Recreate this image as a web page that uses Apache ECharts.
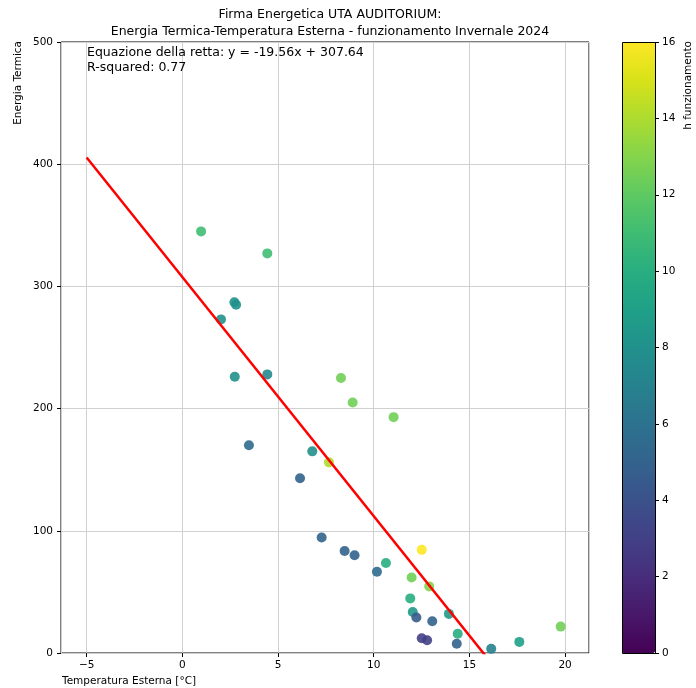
<!DOCTYPE html>
<html>
<head>
<meta charset="utf-8">
<script src="https://cdn.jsdelivr.net/npm/echarts@6/dist/echarts.min.js"></script>
<style>
  html, body { margin: 0; padding: 0; background: #fff; }
  #chart { width: 696px; height: 688px; }
</style>
</head>
<body>
<div id="chart"></div>
<script>
// Outdoor temperature [°C] per day
const temperature = [
  0.98, 4.44, 2.72, 2.81, 2.02, 2.74, 4.44, 8.29, 8.90, 11.04,
  3.48, 6.79, 7.66, 6.15, 7.28, 8.48, 9.00, 12.51, 10.64, 10.17,
  11.98, 12.90, 11.91, 12.04, 12.23, 13.06, 13.93, 14.39, 12.51, 12.79,
  14.34, 16.14, 17.61, 19.77
];
// Thermal energy per day
const energy = [
  345, 327, 287, 285, 273, 226, 228, 225, 205, 193,
  170, 165, 156, 143, 94.5, 83.4, 80, 84.4, 73.6, 66.5,
  61.8, 54.5, 44.7, 33.6, 29, 26, 32, 15.7, 12.1, 10.4,
  7.5, 3.4, 9.1, 21.6
];
// Operating hours per day (colour scale)
const hours = [
  11, 11, 8, 8, 8, 8, 7.5, 12.5, 12.5, 12.5,
  5.5, 8, 14, 5, 5, 5, 5, 16, 10, 5.5,
  12.5, 13, 10, 8.5, 4.5, 5, 8.5, 10, 3, 3,
  5, 7, 9, 12.5
];
// Linear regression results
const slope = -19.56;
const intercept = 307.64;
const rSquared = 0.77;
const fitRange = [-5, 20];

const yTicks = [0, 100, 200, 300, 400, 500];
const hoursTicks = [0, 2, 4, 6, 8, 10, 12, 14, 16];

const viridis = [
  '#440154', '#48186a', '#472d7b', '#424086', '#3b528b', '#33638d',
  '#2c728e', '#26828e', '#21918c', '#1fa088', '#28ae80', '#3fbc73',
  '#5ec962', '#84d44b', '#addc30', '#d8e219', '#fde725'
];

const points = temperature.map((t, i) => [t, energy[i], hours[i]]);
const fitLine = fitRange.map(x => [x, slope * x + intercept]);

const FONT = 'DejaVu Sans';
const plot = { left: 61, top: 42, width: 528, height: 611 };
const cbar = { left: 622, top: 42, width: 33, height: 611 };

const chart = echarts.init(document.getElementById('chart'), null, { renderer: 'canvas' });

chart.setOption({
  animation: false,
  backgroundColor: '#ffffff',
  textStyle: { fontFamily: FONT },
  title: {
    text: 'Firma Energetica UTA AUDITORIUM:\nEnergia Termica-Temperatura Esterna - funzionamento Invernale 2024',
    left: plot.left + plot.width / 2,
    top: 1,
    textAlign: 'center',
    textStyle: { fontFamily: FONT, fontSize: 12.5, fontWeight: 'normal', color: '#000', lineHeight: 17 }
  },
  grid: [
    { left: plot.left, top: plot.top, width: plot.width, height: plot.height,
      show: true, borderColor: '#000', borderWidth: 1, backgroundColor: 'transparent' },
    { left: cbar.left, top: cbar.top, width: cbar.width, height: cbar.height, show: false }
  ],
  xAxis: [
    {
      type: 'value', gridIndex: 0, min: -6.34, max: 21.25,
      axisLine: { show: false, onZero: false },
      axisTick: { show: true, length: 4, lineStyle: { color: '#000' } },
      axisLabel: { showMinLabel: false, showMaxLabel: false, margin: 7,
        fontFamily: FONT, fontSize: 10.5, color: '#000',
        formatter: v => (v < 0 ? '\u2212' + Math.abs(v) : String(v)) },
      splitLine: { show: true, lineStyle: { color: '#d0d0d0', width: 1 } }
    },
    { type: 'value', gridIndex: 1, min: 0, max: 1, show: false }
  ],
  yAxis: [
    {
      type: 'value', gridIndex: 0, min: yTicks[0], max: yTicks[yTicks.length - 1],
      interval: yTicks[1] - yTicks[0],
      axisLine: { show: false, onZero: false },
      axisTick: { show: true, length: 4, lineStyle: { color: '#000' } },
      axisLabel: { margin: 8, fontFamily: FONT, fontSize: 10.5, color: '#000' },
      splitLine: { show: true, lineStyle: { color: '#d0d0d0', width: 1 } }
    },
    {
      type: 'value', gridIndex: 1, position: 'right',
      min: hoursTicks[0], max: hoursTicks[hoursTicks.length - 1],
      interval: hoursTicks[1] - hoursTicks[0],
      axisLine: { show: false, onZero: false },
      axisTick: { show: true, length: 4, lineStyle: { color: '#000' } },
      axisLabel: { margin: 7, fontFamily: FONT, fontSize: 10.5, color: '#000' },
      splitLine: { show: false }
    }
  ],
  visualMap: {
    type: 'continuous',
    seriesIndex: 0,
    dimension: 2,
    min: hoursTicks[0],
    max: hoursTicks[hoursTicks.length - 1],
    calculable: false,
    hoverLink: false,
    orient: 'vertical',
    left: cbar.left,
    top: cbar.top,
    padding: 0,
    itemWidth: cbar.width,
    itemHeight: cbar.height,
    text: null,
    inRange: { color: viridis },
    outOfRange: { color: viridis }
  },
  series: [
    {
      type: 'scatter',
      xAxisIndex: 0, yAxisIndex: 0,
      data: points,
      symbolSize: 10,
      itemStyle: { opacity: 0.9 },
      z: 3
    },
    {
      type: 'line',
      xAxisIndex: 0, yAxisIndex: 0,
      data: fitLine,
      showSymbol: false,
      clip: true,
      lineStyle: { color: '#ff0000', width: 2.5 },
      z: 4
    }
  ],
  graphic: [
    {
      type: 'text', left: 87, top: 45, z: 10,
      style: {
        text: 'Equazione della retta: y = ' + slope.toFixed(2) + 'x + ' + intercept.toFixed(2) +
              '\nR-squared: ' + rSquared.toFixed(2),
        font: '12.5px "DejaVu Sans"', fill: '#000', lineHeight: 15
      }
    },
    {
      type: 'text', x: 62, y: 681, z: 10,
      style: { text: 'Temperatura Esterna [°C]', font: '10.5px "DejaVu Sans"', fill: '#000',
        textAlign: 'left', textVerticalAlign: 'middle' }
    },
    {
      type: 'text', x: 18, y: 41, rotation: Math.PI / 2, z: 10,
      style: { text: 'Energia Termica', font: '10.5px "DejaVu Sans"', fill: '#000',
        textAlign: 'right', textVerticalAlign: 'middle' }
    },
    {
      type: 'text', x: 688, y: 41, rotation: Math.PI / 2, z: 10,
      style: { text: 'h funzionamento', font: '10.5px "DejaVu Sans"', fill: '#000',
        textAlign: 'right', textVerticalAlign: 'middle' }
    },
    {
      type: 'rect', z: 10, silent: true,
      shape: { x: cbar.left + 0.5, y: cbar.top + 0.5, width: cbar.width, height: cbar.height },
      style: { fill: 'none', stroke: '#000', lineWidth: 1 }
    }
  ]
});
</script>
</body>
</html>
